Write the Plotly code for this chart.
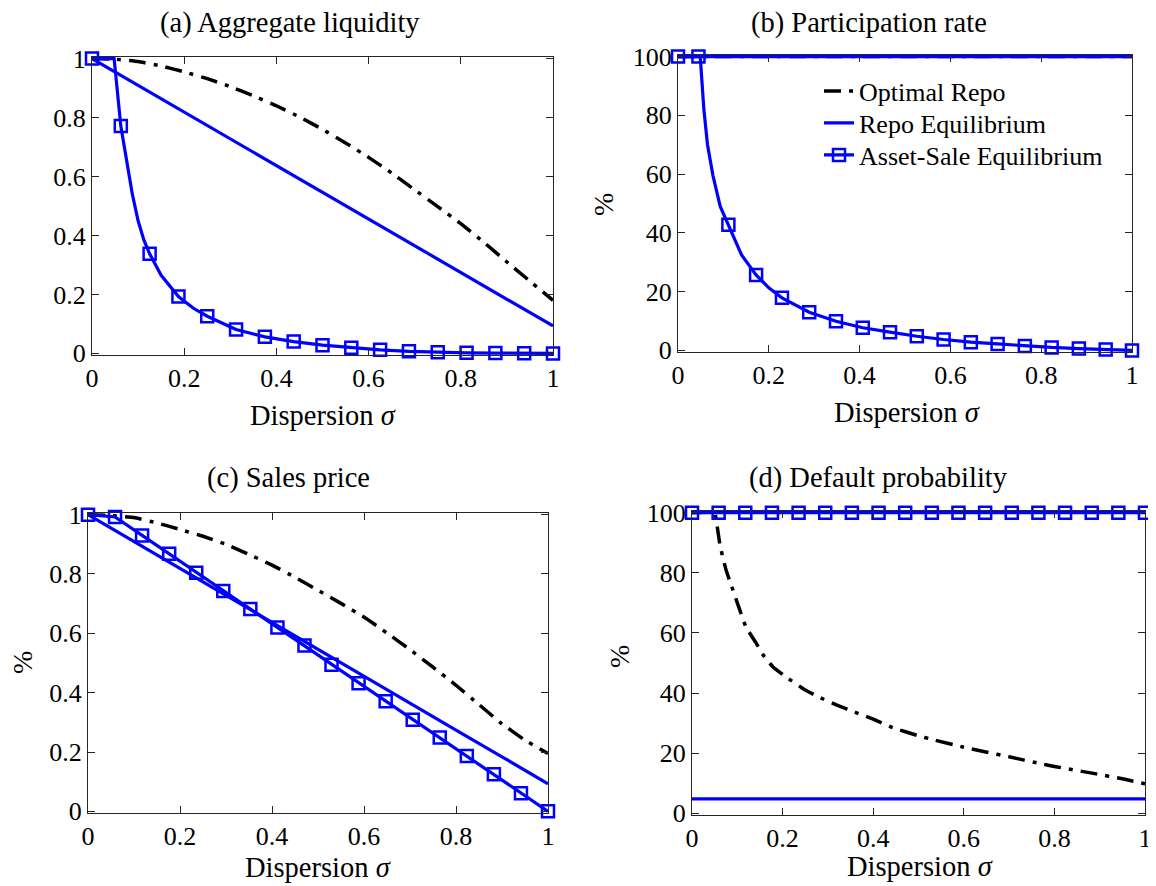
import plotly.graph_objects as go
from plotly.subplots import make_subplots

# ---------------- data ----------------
sigma11 = [0.0, 0.1, 0.2, 0.3, 0.4, 0.5, 0.6, 0.7, 0.8, 0.9, 1.0]
sigma21 = [0.0, 0.05, 0.1, 0.15, 0.2, 0.25, 0.3, 0.35, 0.4, 0.45, 0.5,
           0.55, 0.6, 0.65, 0.7, 0.75, 0.8, 0.85, 0.9, 0.95, 1.0]

# (a) Aggregate liquidity
a_optimal = [1.0, 0.998, 0.99, 0.975, 0.955, 0.932, 0.905, 0.874, 0.84, 0.802, 0.76,
             0.714, 0.665, 0.612, 0.555, 0.498, 0.44, 0.377, 0.31, 0.245, 0.18]
a_repo = [1.0, 0.909, 0.819, 0.728, 0.637, 0.546, 0.456, 0.365, 0.274, 0.184, 0.093]
a_asset_x = [0.0, 0.048, 0.0625, 0.075, 0.0875, 0.1, 0.1125, 0.125, 0.15, 0.1875, 0.22, 0.25,
             0.3125, 0.375, 0.4375, 0.5, 0.5625, 0.625, 0.6875, 0.75, 0.8125, 0.875, 0.9375, 1.0]
a_asset_y = [1.0, 1.0, 0.771, 0.65, 0.54, 0.45, 0.385, 0.338, 0.265, 0.193, 0.153, 0.126,
             0.081, 0.056, 0.040, 0.028, 0.019, 0.012, 0.007, 0.004, 0.002, 0.001, 0.0005, 0.0]
a_marks = [0.0, 0.0625, 0.125, 0.1875, 0.25, 0.3125, 0.375, 0.4375, 0.5, 0.5625, 0.625,
           0.6875, 0.75, 0.8125, 0.875, 0.9375, 1.0]

# (b) Participation rate (%)
b_optimal = [100, 100, 100, 100, 100, 100, 100, 100, 100, 100, 100]
b_repo = [100, 100, 100, 100, 100, 100, 100, 100, 100, 100, 100]
b_asset_x = [0.0, 0.045, 0.049, 0.053, 0.057, 0.065, 0.077, 0.093, 0.111, 0.14, 0.172, 0.2,
             0.229, 0.289, 0.348, 0.407, 0.467, 0.526, 0.585, 0.645, 0.704, 0.764, 0.823,
             0.883, 0.942, 1.0]
b_asset_y = [100, 100, 100, 91, 82, 70, 59.5, 49, 42.8, 32.5, 25.7, 21.3,
             17.9, 13.0, 9.9, 7.7, 6.2, 4.8, 3.7, 2.8, 2.2, 1.5, 1.0,
             0.6, 0.3, 0.0]
b_marks = [0.0, 0.045, 0.111, 0.172, 0.229, 0.289, 0.348, 0.407, 0.467, 0.526, 0.585,
           0.645, 0.704, 0.764, 0.823, 0.883, 0.942, 1.0]

# (c) Sales price
c_optimal = [1.0, 0.997, 0.99, 0.972, 0.95, 0.927, 0.9, 0.866, 0.83, 0.789, 0.745,
             0.701, 0.655, 0.601, 0.545, 0.486, 0.425, 0.36, 0.295, 0.24, 0.195]
c_repo = [1.0, 0.909, 0.819, 0.728, 0.637, 0.546, 0.456, 0.365, 0.274, 0.184, 0.093]
c_asset_x = [0.0, 0.0588, 0.1176, 0.1765, 0.2353, 0.2941, 0.3529, 0.4118, 0.4706, 0.5294,
             0.5882, 0.6471, 0.7059, 0.7647, 0.8235, 0.8824, 0.9412, 1.0]
c_asset_y = [1.0, 0.992, 0.93, 0.868, 0.804, 0.743, 0.682, 0.62, 0.559, 0.494,
             0.432, 0.371, 0.309, 0.249, 0.187, 0.125, 0.061, 0.0]
c_marks = c_asset_x

# (d) Default probability (%)
d_optimal_x = [0.0, 0.05, 0.055, 0.062, 0.075, 0.087, 0.1, 0.119, 0.14, 0.16, 0.18, 0.208,
               0.25, 0.281, 0.32, 0.362, 0.4, 0.443, 0.5, 0.532, 0.6, 0.646, 0.7, 0.767,
               0.8, 0.889, 0.95, 1.0]
d_optimal_y = [100, 100, 96, 89, 81, 75.7, 70, 62, 57, 52, 48.5, 45.3,
               41, 38.6, 36, 33.5, 31.3, 28.5, 25.8, 24.5, 22, 20.5, 18.8, 16.6,
               15.6, 13.2, 11.5, 9.8]
d_repo = [4.8, 4.8, 4.8, 4.8, 4.8, 4.8, 4.8, 4.8, 4.8, 4.8, 4.8]
d_asset_x = c_asset_x
d_asset_y = [100] * 18
d_marks = d_asset_x

x_ticks = [0, 0.2, 0.4, 0.6, 0.8, 1]
x_ticklabels = ["0", "0.2", "0.4", "0.6", "0.8", "1"]
unit_ticks = [0, 0.2, 0.4, 0.6, 0.8, 1]
unit_ticklabels = ["0", "0.2", "0.4", "0.6", "0.8", "1"]
pct_ticks = [0, 20, 40, 60, 80, 100]
pct_ticklabels = ["0", "20", "40", "60", "80", "100"]

titles = ["(a) Aggregate liquidity", "(b) Participation rate",
          "(c) Sales price", "(d) Default probability"]
legend_names = ["Optimal Repo", "Repo Equilibrium", "Asset-Sale Equilibrium"]

# ---------------- styles ----------------
PAGE_OFF = 8            # the page body margin in the browser
W, H = 1156 - PAGE_OFF, 886 - PAGE_OFF
FONT = "'Liberation Serif', 'Times New Roman', Times, serif"
BLUE = "#0000FF"
BLACK = "#000000"
AXC = "#262626"
DASHDOT = "17px,8px,4px,8px"
LW = 3.2

fig = make_subplots(rows=2, cols=2)

def px_x(v):
    return (v - PAGE_OFF) / W

def px_y(v):
    return 1 - (v - PAGE_OFF) / H

def lookup(xs, ys, marks):
    m = dict(zip(xs, ys))
    return [m[v] for v in marks]

panels = [
    dict(row=1, col=1, opt=(sigma21, a_optimal), repo=(sigma11, a_repo),
         asset=(a_asset_x, a_asset_y), marks=a_marks, pct=False),
    dict(row=1, col=2, opt=(sigma11, b_optimal), repo=(sigma11, b_repo),
         asset=(b_asset_x, b_asset_y), marks=b_marks, pct=True),
    dict(row=2, col=1, opt=(sigma21, c_optimal), repo=(sigma11, c_repo),
         asset=(c_asset_x, c_asset_y), marks=c_marks, pct=False),
    dict(row=2, col=2, opt=(d_optimal_x, d_optimal_y), repo=(sigma11, d_repo),
         asset=(d_asset_x, d_asset_y), marks=d_marks, pct=True),
]

marker_style = dict(symbol="square-open", size=12, color=BLUE,
                    line=dict(color=BLUE, width=2.5))

for p in panels:
    r, c = p["row"], p["col"]
    is_leg = (r == 1 and c == 2)
    fig.add_trace(go.Scatter(x=p["opt"][0], y=p["opt"][1], mode="lines",
                             line=dict(color=BLACK, width=3.5, dash=DASHDOT,
                                       shape="spline", smoothing=0.3),
                             name=legend_names[0], showlegend=is_leg, legend="legend"),
                  row=r, col=c)
    fig.add_trace(go.Scatter(x=p["repo"][0], y=p["repo"][1], mode="lines",
                             line=dict(color=BLUE, width=LW),
                             name=legend_names[1], showlegend=is_leg, legend="legend2"),
                  row=r, col=c)
    fig.add_trace(go.Scatter(x=p["asset"][0], y=p["asset"][1], mode="lines",
                             line=dict(color=BLUE, width=LW),
                             name=legend_names[2], showlegend=False), row=r, col=c)
    fig.add_trace(go.Scatter(x=p["marks"], y=lookup(p["asset"][0], p["asset"][1], p["marks"]),
                             mode="markers", cliponaxis=False, marker=marker_style,
                             name=legend_names[2], showlegend=False), row=r, col=c)
    if is_leg:
        fig.add_trace(go.Scatter(x=[None], y=[None], mode="lines+markers",
                                 line=dict(color=BLUE, width=LW), marker=marker_style,
                                 name=legend_names[2], showlegend=True, legend="legend3"),
                      row=r, col=c)

# pixel boxes of the four axes (screen pixels)
boxes = {
    (1, 1): (92, 553, 57, 355),
    (1, 2): (678, 1132, 55, 352),
    (2, 1): (88, 548, 513, 813),
    (2, 2): (692, 1145, 511, 815),
}
axis_common = dict(showline=True, mirror="ticks", ticks="inside", ticklen=7,
                   linecolor=AXC, linewidth=1.3, tickcolor=AXC, tickwidth=1.3,
                   showgrid=False, zeroline=False, automargin=False,
                   tickfont=dict(family=FONT, size=26, color="black"))
for p in panels:
    r, c = p["row"], p["col"]
    x0, x1, y0, y1 = boxes[(r, c)]
    fig.update_xaxes(domain=[px_x(x0), px_x(x1)], range=[0, 1], tickvals=x_ticks,
                     ticktext=x_ticklabels, **axis_common, row=r, col=c)
    if p["pct"]:
        fig.update_yaxes(domain=[px_y(y1), px_y(y0)], range=[-0.55, 100.55],
                         tickvals=pct_ticks, ticktext=pct_ticklabels,
                         **axis_common, row=r, col=c)
    else:
        fig.update_yaxes(domain=[px_y(y1), px_y(y0)], range=[-0.0055, 1.0055],
                         tickvals=unit_ticks, ticktext=unit_ticklabels,
                         **axis_common, row=r, col=c)

annots = []
title_pos = [(290, 23), (869, 23), (288, 478), (878, 478)]
for t, (x, y) in zip(titles, title_pos):
    annots.append(dict(text=t, x=px_x(x), y=px_y(y), xref="paper", yref="paper",
                       showarrow=False, xanchor="center", yanchor="middle",
                       font=dict(family=FONT, size=28.5, color="black")))
for (x, y) in [(323, 415), (907, 412), (318, 867), (920, 866)]:
    annots.append(dict(text="Dispersion <i>σ</i>", x=px_x(x), y=px_y(y), xref="paper",
                       yref="paper", showarrow=False, xanchor="center", yanchor="middle",
                       font=dict(family=FONT, size=28.5, color="black")))
for (x, y) in [(604, 205), (22, 663), (619, 657)]:
    annots.append(dict(text="%", x=px_x(x), y=px_y(y), xref="paper", yref="paper",
                       showarrow=False, xanchor="center", yanchor="middle", textangle=-90,
                       font=dict(family=FONT, size=28, color="black")))

leg_common = dict(xanchor="left", yanchor="middle", bgcolor="rgba(0,0,0,0)",
                  borderwidth=0, font=dict(family=FONT, size=26, color="black"))
fig.update_layout(
    template="none",
    width=W, height=H, autosize=False,
    margin=dict(l=0, r=0, t=0, b=0, pad=0, autoexpand=False),
    paper_bgcolor="white", plot_bgcolor="white",
    annotations=annots,
    showlegend=True,
    font=dict(family=FONT, color="black"),
    legend=dict(x=px_x(819), y=px_y(91), **leg_common),
    legend2=dict(x=px_x(819), y=px_y(123), **leg_common),
    legend3=dict(x=px_x(819), y=px_y(155), **leg_common),
)

fig.write_html("out.html")
